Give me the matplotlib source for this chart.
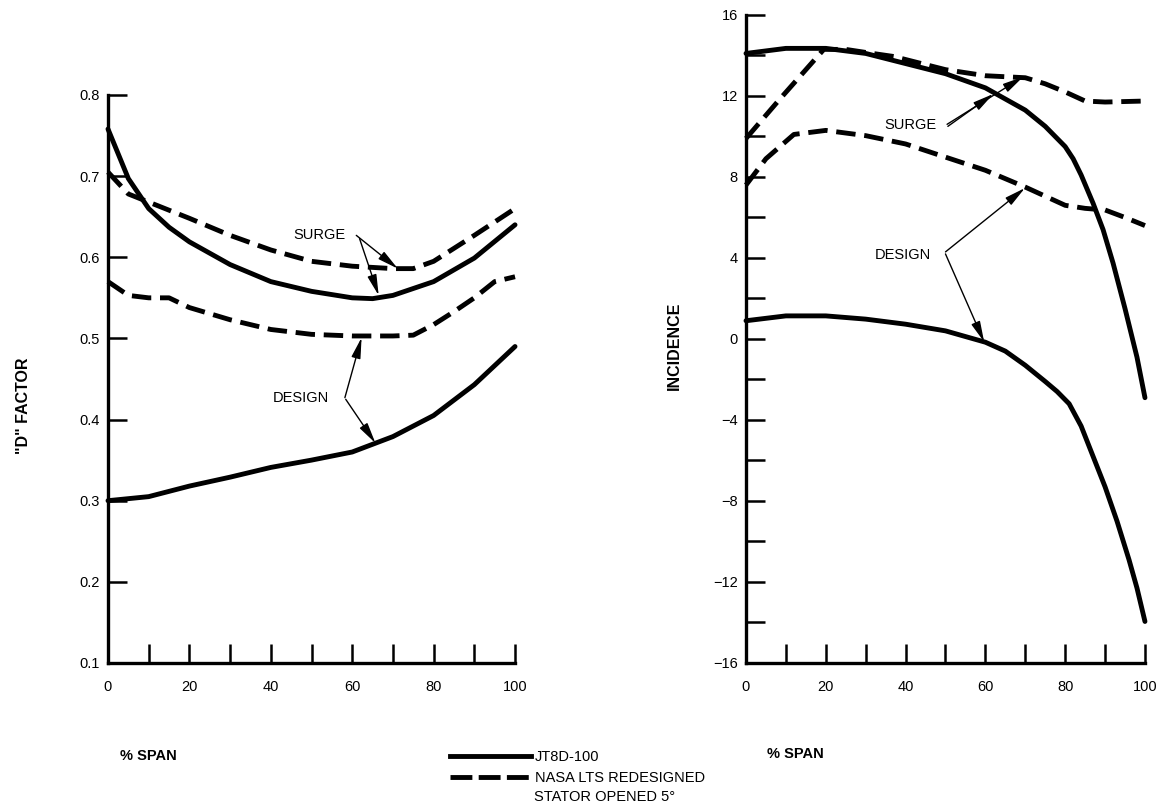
import matplotlib
matplotlib.use('Agg')
import matplotlib.pyplot as plt
from matplotlib.lines import Line2D

plt.rcParams['font.family'] = ['Liberation Sans', 'DejaVu Sans']

# ---------------- data ----------------
# Left panel: "D" factor vs % span
l_surge_jt_x = [0, 5, 10, 15, 20, 30, 40, 50, 60, 65, 70, 80, 90, 100]
l_surge_jt_y = [0.758, 0.697, 0.660, 0.637, 0.619, 0.591, 0.570, 0.558, 0.550, 0.549, 0.553, 0.570, 0.599, 0.640]

l_surge_nasa_x = [0, 5, 10, 15, 20, 30, 40, 50, 60, 70, 75, 80, 90, 100]
l_surge_nasa_y = [0.705, 0.678, 0.668, 0.658, 0.648, 0.627, 0.609, 0.595, 0.589, 0.586, 0.586, 0.595, 0.627, 0.660]

l_design_nasa_x = [0, 5, 10, 15, 20, 30, 40, 50, 60, 70, 75, 80, 85, 90, 95, 100]
l_design_nasa_y = [0.570, 0.553, 0.550, 0.550, 0.538, 0.523, 0.511, 0.505, 0.503, 0.503, 0.504, 0.517, 0.533, 0.550, 0.570, 0.576]

l_design_jt_x = [0, 10, 20, 30, 40, 50, 60, 70, 80, 90, 100]
l_design_jt_y = [0.300, 0.305, 0.318, 0.329, 0.341, 0.350, 0.360, 0.379, 0.405, 0.443, 0.490]

# Right panel: incidence vs % span
r_surge_jt_x = [0, 10, 20, 30, 40, 50, 60, 70, 75, 80, 82, 84, 87, 89.5, 92, 95, 98, 100]
r_surge_jt_y = [14.1, 14.35, 14.35, 14.1, 13.6, 13.1, 12.4, 11.3, 10.5, 9.5, 8.9, 8.1, 6.7, 5.4, 3.75, 1.5, -0.9, -2.9]

r_surge_nasa_x = [0, 8.5, 19.5, 25, 30, 37, 45, 50, 60, 70, 75, 80, 85, 90, 100]
r_surge_nasa_y = [9.9, 11.85, 14.3, 14.3, 14.15, 13.95, 13.55, 13.3, 13.0, 12.9, 12.6, 12.2, 11.75, 11.7, 11.75]

r_design_nasa_x = [0, 5, 12, 16, 20, 30, 40, 50, 60, 70, 80, 85, 90, 95, 100]
r_design_nasa_y = [7.6, 8.9, 10.1, 10.2, 10.3, 10.04, 9.63, 8.98, 8.33, 7.5, 6.6, 6.45, 6.37, 6.0, 5.6]

r_design_jt_x = [0, 10, 20, 30, 40, 50, 60, 65, 70, 75, 78, 81, 84, 87, 90, 93, 96, 98, 100]
r_design_jt_y = [0.9, 1.14, 1.14, 0.98, 0.73, 0.4, -0.16, -0.6, -1.3, -2.1, -2.6, -3.2, -4.3, -5.8, -7.3, -9.0, -10.9, -12.3, -13.95]

x_ticks = list(range(0, 101, 10))
x_ticklabels = ['0', '', '20', '', '40', '', '60', '', '80', '', '100']
l_yticks = [0.1, 0.2, 0.3, 0.4, 0.5, 0.6, 0.7, 0.8]
l_yticklabels = ['0.1', '0.2', '0.3', '0.4', '0.5', '0.6', '0.7', '0.8']
r_yticks = list(range(-16, 17, 2))
r_yticklabels = ['\u221216', '', '\u221212', '', '\u22128', '', '\u22124', '',
                 '0', '', '4', '', '8', '', '12', '', '16']

legend_labels = ['JT8D-100', 'NASA LTS REDESIGNED']
legend_extra = 'STATOR OPENED 5\u00b0'

# ---------------- figure ----------------
fig = plt.figure(figsize=(11.7, 8.09), dpi=100)
axL = fig.add_axes([0.0923, 0.1805, 0.3479, 0.7021])
axR = fig.add_axes([0.6376, 0.1805, 0.341, 0.801])

LW = 3.5
DASH = (4, 1.8)


def style(ax):
    for s in ['top', 'right']:
        ax.spines[s].set_visible(False)
    for s in ['left', 'bottom']:
        ax.spines[s].set_linewidth(2.4)
    ax.tick_params(direction='in', length=14, width=1.8, labelsize=10.5, color='black')
    ax.tick_params(axis='x', pad=12)
    ax.tick_params(axis='y', pad=6)
    ax.set_xlim(0, 100)
    ax.set_xticks(x_ticks)
    ax.set_xticklabels(x_ticklabels)


def solid(ax, x, y):
    ax.plot(x, y, color='black', lw=LW, solid_capstyle='round', solid_joinstyle='round', clip_on=False)


def dashed(ax, x, y):
    ax.plot(x, y, color='black', lw=LW, linestyle='--', dashes=DASH, clip_on=False)


arrow_kw = dict(arrowstyle='-|>,head_length=0.9,head_width=0.2', lw=1.0, color='black',
                shrinkA=0, shrinkB=0, mutation_scale=14)

# Left panel
style(axL)
axL.set_ylim(0.1, 0.8)
axL.set_yticks(l_yticks)
axL.set_yticklabels(l_yticklabels)
solid(axL, l_surge_jt_x, l_surge_jt_y)
dashed(axL, l_surge_nasa_x, l_surge_nasa_y)
dashed(axL, l_design_nasa_x, l_design_nasa_y)
solid(axL, l_design_jt_x, l_design_jt_y)

axL.text(52, 0.628, 'SURGE', ha='center', va='center', fontsize=10.5)
axL.annotate('', xy=(71.2, 0.586), xytext=(61.0, 0.627), arrowprops=arrow_kw)
axL.annotate('', xy=(66.5, 0.553), xytext=(61.8, 0.623), arrowprops=arrow_kw)
axL.text(47.5, 0.427, 'DESIGN', ha='center', va='center', fontsize=10.5)
axL.annotate('', xy=(62.3, 0.501), xytext=(58.2, 0.427), arrowprops=arrow_kw)
axL.annotate('', xy=(65.7, 0.371), xytext=(58.4, 0.425), arrowprops=arrow_kw)

axL.set_xlabel('% SPAN', fontsize=10.5, fontweight='bold')
axL.xaxis.set_label_coords(0.098, -0.152)
axL.set_ylabel('"D" FACTOR', fontsize=11.5, fontweight='bold')
axL.yaxis.set_label_coords(-0.189, 0.452)

# Right panel
style(axR)
axR.set_ylim(-16, 16)
axR.set_yticks(r_yticks)
axR.set_yticklabels(r_yticklabels)
solid(axR, r_surge_jt_x, r_surge_jt_y)
dashed(axR, r_surge_nasa_x, r_surge_nasa_y)
dashed(axR, r_design_nasa_x, r_design_nasa_y)
solid(axR, r_design_jt_x, r_design_jt_y)

axR.text(41.3, 10.55, 'SURGE', ha='center', va='center', fontsize=10.5)
axR.annotate('', xy=(69.5, 12.95), xytext=(50.4, 10.6), arrowprops=arrow_kw)
axR.annotate('', xy=(62.0, 12.1), xytext=(50.6, 10.5), arrowprops=arrow_kw)
axR.text(39.2, 4.16, 'DESIGN', ha='center', va='center', fontsize=10.5)
axR.annotate('', xy=(69.9, 7.45), xytext=(50.0, 4.3), arrowprops=arrow_kw)
axR.annotate('', xy=(59.7, -0.15), xytext=(50.0, 4.2), arrowprops=arrow_kw)

axR.set_xlabel('% SPAN', fontsize=10.5, fontweight='bold')
axR.xaxis.set_label_coords(0.123, -0.13)
axR.set_ylabel('INCIDENCE', fontsize=11.5, fontweight='bold')
axR.yaxis.set_label_coords(-0.16, 0.49)

# Legend
handles = [Line2D([], [], color='black', lw=LW),
           Line2D([], [], color='black', lw=LW, linestyle='--', dashes=(4.5, 1.3))]
fig.legend(handles, legend_labels, loc='upper left', bbox_to_anchor=(0.385, 0.073),
           frameon=False, fontsize=10.5, handlelength=5.5, handletextpad=0.3,
           labelspacing=0.5, borderpad=0, borderaxespad=0)
fig.text(534 / 1170, 1 - 797 / 809, legend_extra, ha='left', va='center', fontsize=10.5)

fig.savefig('out.png', dpi=100)
